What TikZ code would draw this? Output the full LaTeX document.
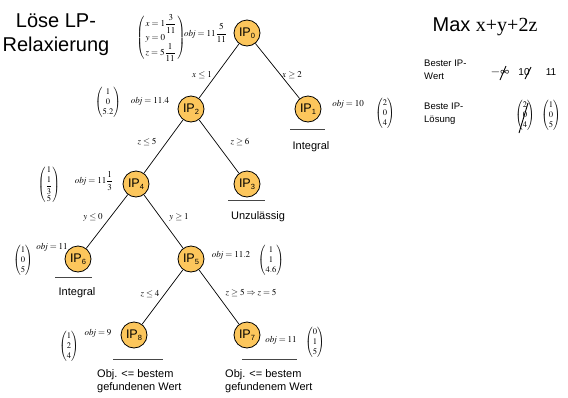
\documentclass[tikz,border=0pt]{standalone}
\usepackage{amsmath}
\usepackage{mathptmx}
\usepackage[no-math]{fontspec}
\setmainfont{Liberation Sans}
\newfontfamily\serifx{Liberation Serif}

\definecolor{ipfill}{RGB}{252,198,92}
\definecolor{ulinecol}{RGB}{70,70,70}

\newcommand{\ipname}[1]{IP\raisebox{-2.2pt}{\fontsize{7.5}{7.5}\selectfont #1}}
\newcommand{\colvec}[1]{\fontsize{8.5}{10}\selectfont$\begin{pmatrix}#1\end{pmatrix}$}
\newcommand{\objv}{\mathit{obj}}

\tikzset{
  ip/.style={circle, draw=black, line width=0.8pt, fill=ipfill,
    minimum size=26pt, inner sep=0pt, font=\fontsize{12.5}{12.5}\selectfont},
  edge/.style={draw=black, line width=0.7pt},
  uline/.style={draw=ulinecol, line width=1pt},
  mlbl/.style={inner sep=0pt, font=\fontsize{9}{10}\selectfont},
  vec/.style={inner sep=0pt},
  note/.style={inner sep=0pt, font=\fontsize{11}{13}\selectfont, align=left},
  side/.style={inner sep=0pt, font=\fontsize{9.5}{13}\selectfont, align=left},
  big/.style={inner sep=0pt, font=\fontsize{20}{24}\selectfont, align=center},
  strike/.style={draw=black, line width=0.9pt},
}

\begin{document}
\begin{tikzpicture}[x=1pt,y=-1pt]
\useasboundingbox (0,0) rectangle (568,397);

% tree nodes
\node[ip] (ip0) at (247,33)  {\ipname{0}};
\node[ip] (ip2) at (191,109) {\ipname{2}};
\node[ip] (ip1) at (308,109) {\ipname{1}};
\node[ip] (ip4) at (136,184) {\ipname{4}};
\node[ip] (ip3) at (247,184) {\ipname{3}};
\node[ip] (ip6) at (78,259)  {\ipname{6}};
\node[ip] (ip5) at (191,259) {\ipname{5}};
\node[ip] (ip8) at (134,335) {\ipname{8}};
\node[ip] (ip7) at (247,335) {\ipname{7}};

% branches
\draw[edge] (ip0) -- (ip2);
\draw[edge] (ip0) -- (ip1);
\draw[edge] (ip2) -- (ip4);
\draw[edge] (ip2) -- (ip3);
\draw[edge] (ip4) -- (ip6);
\draw[edge] (ip4) -- (ip5);
\draw[edge] (ip5) -- (ip8);
\draw[edge] (ip5) -- (ip7);

% branching constraints
\node[mlbl] (c01) at (202,75)  {$x\le 1$};
\node[mlbl] (c02) at (292,75)  {$x\ge 2$};
\node[mlbl] (c23) at (147,142) {$z\le 5$};
\node[mlbl] (c24) at (240,142) {$z\ge 6$};
\node[mlbl] (c45) at (93,217)  {$y\le 0$};
\node[mlbl] (c46) at (179,217) {$y\ge 1$};
\node[mlbl] (c57) at (150,294) {$z\le 4$};
\node[mlbl] (c58) at (251,293) {$z\ge 5\Rightarrow z=5$};

% LP solutions and objective values
\node[vec] (v0) at (161,38) {\fontsize{9}{10}\selectfont$\left(\begin{array}{@{\,}l@{\,}}x=1\dfrac{3}{11}\\ y=0\\ z=5\dfrac{1}{11}\end{array}\right)$};
\node[mlbl, anchor=west] (o0) at (184,33) {$\objv=11\dfrac{5}{11}$};

\node[vec] (v2) at (108,102) {\colvec{1\\0\\5.2}};
\node[mlbl] (o2) at (150,101) {$\objv=11.4$};

\node[mlbl] (o1) at (348,104) {$\objv=10$};
\node[vec] (v1) at (385,113) {\colvec{2\\0\\4}};

\node[vec] (v4) at (49,185) {\colvec{1\\[1pt] \dfrac{1}{3}\\[1pt] 5}};
\node[mlbl] (o4) at (94,181) {$\objv=11\dfrac{1}{3}$};

\node[mlbl] (o5) at (231,255) {$\objv=11.2$};
\node[vec] (v5) at (271,260) {\colvec{1\\1\\4.6}};

\node[vec] (v6) at (23,260) {\colvec{1\\0\\5}};
\node[mlbl] (o6) at (52,247) {$\objv=11$};

\node[vec] (v8) at (69,346) {\colvec{1\\2\\4}};
\node[mlbl] (o8) at (98,333) {$\objv=9$};

\node[mlbl] (o7) at (281,340) {$\objv=11$};
\node[vec] (v7) at (315,342) {\colvec{0\\1\\5}};

% fathomed nodes: underline and reason
\draw[uline] ([xshift=-18pt,yshift=-20pt]ip1.center) -- ++(35,0);
\node[note] (t1) at (311,147) {Integral};
\draw[uline] ([xshift=-19pt,yshift=-16pt]ip3.center) -- ++(37,0);
\node[note] (t3) at (258,217) {Unzulässig};
\draw[uline] ([xshift=-23pt,yshift=-18pt]ip6.center) -- ++(37,0);
\node[note] (t6) at (77,293) {Integral};
\draw[uline] ([xshift=-21pt,yshift=-24pt]ip8.center) -- ++(50,0);
\node[note, anchor=west] (t8) at (97,381) {Obj. <= bestem\\gefundenen Wert};
\draw[uline] ([xshift=-5pt,yshift=-24pt]ip7.center) -- ++(55,0);
\node[note, anchor=west] (t7) at (225,381) {Obj. <= bestem\\gefundenem Wert};

% headings
\node[big] (title) at (56,35) {Löse LP-\\Relaxierung};
\node[big] (goal) at (485,27) {Max {\serifx x+y+2z}};

% incumbent bookkeeping
\node[side, anchor=west] (bw) at (424,70) {Bester IP-\\Wert};
\node[side, anchor=west] (bl) at (424,114) {Beste IP-\\Lösung};
\node[inner sep=0pt, font=\fontsize{12.5}{13}\selectfont] (ninf) at (500,72) {$-\infty$};
\node[inner sep=0pt, font=\fontsize{10}{12}\selectfont] (ten) at (524,72) {10};
\node[inner sep=0pt, font=\fontsize{10}{12}\selectfont] (eleven) at (551,72) {11};
\node[vec] (sv1) at (525,115) {\colvec{2\\0\\4}};
\node[vec] (sv2) at (551,115) {\colvec{1\\0\\5}};
\draw[strike] ([xshift=0pt,yshift=-8pt]ninf.center) -- ([xshift=6pt,yshift=6pt]ninf.center);
\draw[strike] ([xshift=1pt,yshift=-7pt]ten.center) -- ([xshift=7pt,yshift=5pt]ten.center);
\draw[strike] ([xshift=-6pt,yshift=-18pt]sv1.center) -- ([xshift=3pt,yshift=12pt]sv1.center);
\end{tikzpicture}
\end{document}
